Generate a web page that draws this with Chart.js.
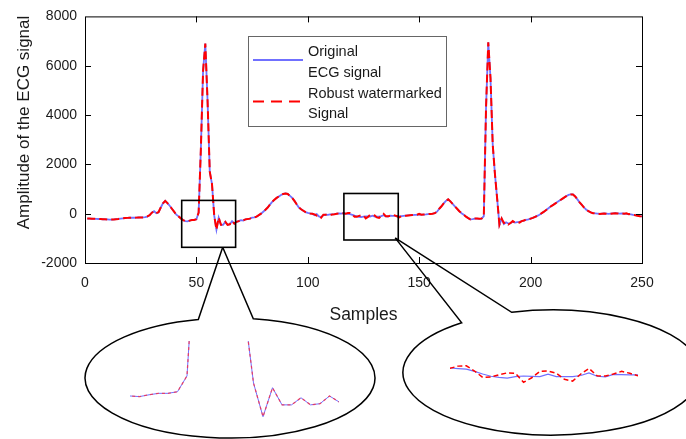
<!DOCTYPE html>
<html>
<head>
<meta charset="utf-8">
<script src="https://cdn.jsdelivr.net/npm/chart.js@4.4.0/dist/chart.umd.min.js"></script>
<style>
  body { margin: 0; background: #fff; }
  #wrap { position: relative; width: 686px; height: 439px; }
  canvas { position: absolute; }
</style>
</head>
<body>
<div id="wrap">
  <canvas id="ecg" width="686" height="439" style="left:0;top:0"></canvas>
  <canvas id="zoomA" width="209" height="84" style="left:130px;top:341px"></canvas>
  <canvas id="zoomB" width="188" height="48" style="left:450px;top:350px"></canvas>
</div>
<script>
// values, samples 1..250
const original = [
  -200,-200,-205,-210,-210,-215,-220,-225,-230,-235,
  -240,-240,-235,-225,-215,-200,-190,-180,-170,-165,
  -160,-165,-160,-155,-150,-150,-140,-120,-60,40,
  100,20,60,250,420,520,430,320,200,80,
  -40,-110,-190,-260,-300,-310,-280,-255,-255,-228,
  40,2600,5800,6900,4600,1700,1200,-80,-650,-160,
  -450,-450,-330,-450,-430,-300,-400,-330,-300,-260,
  -280,-230,-220,-200,-160,-150,-120,-60,0,80,
  160,250,370,480,560,640,700,760,800,820,
  800,720,640,520,380,250,180,120,60,30,
  10,0,-60,-20,-110,-140,-60,-40,-50,-30,
  -30,-20,0,10,0,20,0,-8,-15,-45,
  -80,-110,-125,-135,-116,-107,-112,-115,-82,-114,
  -116,-116,-100,-65,-110,-118,-85,-88,-91,-93,
  -110,-100,-90,-80,-70,-60,-55,-50,-45,-40,
  -40,-35,-30,-20,-10,0,20,80,200,300,
  420,520,580,500,400,300,200,100,20,-40,
  -120,-180,-230,-220,-200,-200,-210,-200,-100,4300,
  6950,5500,2800,1600,600,-450,-200,-420,-350,-400,
  -380,-330,-360,-340,-330,-300,-280,-250,-230,-200,
  -170,-130,-90,-40,20,80,150,220,290,350,
  410,470,530,590,650,710,760,780,780,700,
  580,460,360,250,160,100,50,20,10,0,
  -10,0,10,0,-10,0,10,20,10,0,
  10,0,-10,-20,-30,-50,-60,-80,-100,-110
];
const watermarked = [
  -200,-200,-205,-210,-210,-215,-220,-225,-230,-235,
  -240,-240,-235,-225,-215,-200,-190,-180,-170,-165,
  -160,-165,-160,-155,-150,-150,-140,-110,-60,40,
  100,20,60,250,420,520,430,320,200,80,
  -40,-110,-190,-260,-300,-310,-280,-255,-255,-228,
  40,2600,5800,6900,4600,1700,1200,-80,-650,-160,
  -450,-450,-330,-450,-430,-300,-400,-330,-300,-260,
  -280,-230,-220,-200,-160,-150,-120,-60,0,80,
  160,250,370,480,560,640,700,760,800,820,
  800,720,640,520,380,250,180,120,60,30,
  10,0,-30,-80,-60,-160,-40,-40,-50,-60,
  -30,-20,0,10,0,20,-4,25,30,-40,
  -125,-120,-90,-65,-70,-190,-130,-45,-40,-70,
  -150,-175,-80,-5,-105,-108,-80,-45,-70,-105,
  -150,-100,-90,-80,-70,-60,-55,-50,-45,-10,
  -40,-35,-30,-20,-10,0,20,80,200,300,
  420,520,580,500,400,300,200,100,20,-40,
  -120,-180,-230,-220,-200,-200,-210,-200,-100,4300,
  6950,5500,2800,1600,600,-450,-200,-380,-350,-440,
  -380,-300,-360,-340,-360,-300,-280,-230,-230,-200,
  -170,-130,-90,-40,20,80,150,220,290,350,
  410,470,530,590,650,710,760,780,780,700,
  580,460,360,250,160,100,50,20,10,0,
  -10,0,10,0,-10,0,10,20,10,0,
  10,0,20,-20,-10,-50,-60,-80,-100,-110
];
const samples = original.map((_, i) => i + 1);
const xTicks = [0, 50, 100, 150, 200, 250];
const yTicks = [-2000, 0, 2000, 4000, 6000, 8000];

// zoomed windows in data units: [from sample, to sample, high, low]
const windowA = [43.4, 67.6, 538, -1364];
const windowB = [116.2, 140.6, 819, -1067];

const FONT = "'Liberation Sans', Arial, Helvetica, sans-serif";
const BLUE = 'rgb(112,112,255)';
const RED = '#ff0000';
Chart.defaults.font.family = FONT;
Chart.defaults.color = '#1a1a1a';

function points(ys) {
  return samples.map((s, i) => ({ x: s, y: ys[i] }));
}

const framePlugin = {
  id: 'frame',
  afterDraw(chart) {
    const { ctx, chartArea: a, scales: { x, y } } = chart;
    ctx.save();
    ctx.strokeStyle = '#000';
    ctx.lineWidth = 1;
    ctx.strokeRect(a.left + 0.5, a.top + 0.5, a.right - a.left, a.bottom - a.top);
    ctx.beginPath();
    xTicks.slice(1, -1).forEach(v => {
      const px = Math.round(x.getPixelForValue(v)) + 0.5;
      ctx.moveTo(px, a.bottom); ctx.lineTo(px, a.bottom - 6);
      ctx.moveTo(px, a.top); ctx.lineTo(px, a.top + 6);
    });
    yTicks.slice(1, -1).forEach(v => {
      const py = Math.round(y.getPixelForValue(v)) + 0.5;
      ctx.moveTo(a.left, py); ctx.lineTo(a.left + 6, py);
      ctx.moveTo(a.right, py); ctx.lineTo(a.right - 6, py);
    });
    ctx.stroke();

    // zoom windows
    ctx.lineWidth = 1.6;
    [windowA, windowB].forEach(w => {
      const l = x.getPixelForValue(w[0]), r = x.getPixelForValue(w[1]);
      const t = y.getPixelForValue(w[2]), b = y.getPixelForValue(w[3]);
      ctx.strokeRect(l, t, r - l, b - t);
    });

    // callout balloons
    const balloons = [
      { ax: x.getPixelForValue(61.8), ay: y.getPixelForValue(windowA[3]),
        cx: 230, cy: 378, rx: 145, ry: 60, legR: 253.3, legL: 198.3 },
      { ax: x.getPixelForValue(139.2), ay: y.getPixelForValue(-980),
        cx: 552, cy: 372.5, rx: 149, ry: 62.5, legR: 511.7, legL: 461.7 }
    ];
    ctx.lineWidth = 1.5;
    balloons.forEach(b => {
      const t1 = -Math.acos((b.legR - b.cx) / b.rx);
      const t2 = -Math.acos((b.legL - b.cx) / b.rx);
      ctx.beginPath();
      ctx.moveTo(b.ax, b.ay);
      ctx.lineTo(b.cx + b.rx * Math.cos(t1), b.cy + b.ry * Math.sin(t1));
      ctx.ellipse(b.cx, b.cy, b.rx, b.ry, 0, t1, t2, false);
      ctx.lineTo(b.ax, b.ay);
      ctx.stroke();
    });

    // legend
    ctx.fillStyle = '#fff';
    ctx.fillRect(248.5, 36.5, 198, 90);
    ctx.strokeStyle = '#666';
    ctx.lineWidth = 1;
    ctx.strokeRect(248.5, 36.5, 198, 90);
    ctx.lineWidth = 1.8;
    ctx.strokeStyle = BLUE;
    ctx.beginPath(); ctx.moveTo(253, 60); ctx.lineTo(303, 60); ctx.stroke();
    ctx.strokeStyle = RED;
    ctx.lineWidth = 2;
    ctx.setLineDash([11, 7]);
    ctx.beginPath(); ctx.moveTo(253, 101.5); ctx.lineTo(303, 101.5); ctx.stroke();
    ctx.setLineDash([]);
    ctx.fillStyle = '#1a1a1a';
    ctx.font = '14.5px ' + FONT;
    ctx.textAlign = 'left';
    ctx.textBaseline = 'middle';
    ctx.fillText('Original', 308, 51.5);
    ctx.fillText('ECG signal', 308, 72.5);
    ctx.fillText('Robust watermarked', 308, 93.5);
    ctx.fillText('Signal', 308, 113.5);

    // axis titles
    ctx.font = '17.5px ' + FONT;
    ctx.textAlign = 'center';
    ctx.fillText('Samples', (a.left + a.right) / 2, 315);
    ctx.translate(24, 122.5);
    ctx.rotate(-Math.PI / 2);
    ctx.font = '17px ' + FONT;
    ctx.fillText('Amplitude of the ECG signal', 0, 0);
    ctx.restore();
  }
};

new Chart(document.getElementById('ecg'), {
  type: 'line',
  data: {
    datasets: [
      { label: 'Robust watermarked Signal', data: points(watermarked), borderColor: RED,
        borderWidth: 2, borderDash: [8, 4], pointRadius: 0, order: 0 },
      { label: 'Original ECG signal', data: points(original), borderColor: BLUE,
        borderWidth: 1.8, pointRadius: 0, order: 1 }
    ]
  },
  options: {
    responsive: false,
    animation: false,
    devicePixelRatio: 1,
    layout: { padding: { left: 0, top: 13, right: 44, bottom: 146 } },
    plugins: { legend: { display: false }, tooltip: { enabled: false } },
    scales: {
      x: {
        type: 'linear', min: 0, max: 250,
        afterBuildTicks: s => { s.ticks = xTicks.map(v => ({ value: v })); },
        afterFit: s => { s.height = 30; },
        ticks: { padding: 12, font: { size: 14 }, maxRotation: 0, callback: v => String(v) },
        grid: { display: false, drawTicks: false },
        border: { display: false }
      },
      y: {
        min: -2000, max: 8000,
        afterBuildTicks: s => { s.ticks = yTicks.map(v => ({ value: v })); },
        afterFit: s => { s.width = 85; },
        ticks: { padding: 8, font: { size: 14 }, callback: v => String(v) },
        grid: { display: false, drawTicks: false },
        border: { display: false }
      }
    }
  },
  plugins: [framePlugin]
});

function insetChart(id, xmin, xmax, ymin, ymax, width, dash, redColor) {
  new Chart(document.getElementById(id), {
    type: 'line',
    data: {
      datasets: [
        { data: points(watermarked), borderColor: redColor, borderWidth: width + 0.3,
          borderDash: dash, pointRadius: 0, order: 0 },
        { data: points(original), borderColor: BLUE, borderWidth: width,
          pointRadius: 0, order: 1 }
      ]
    },
    options: {
      responsive: false,
      animation: false,
      devicePixelRatio: 1,
      layout: { padding: 0 },
      plugins: { legend: { display: false }, tooltip: { enabled: false } },
      scales: {
        x: { type: 'linear', min: xmin, max: xmax, display: false },
        y: { min: ymin, max: ymax, display: false }
      }
    }
  });
}

insetChart('zoomA', 45, 67, -790, 629, 1, [3, 3], 'rgba(255,40,60,0.75)');
insetChart('zoomB', 117, 140, -400, 240, 1.2, [5, 3], RED);
</script>
</body>
</html>
